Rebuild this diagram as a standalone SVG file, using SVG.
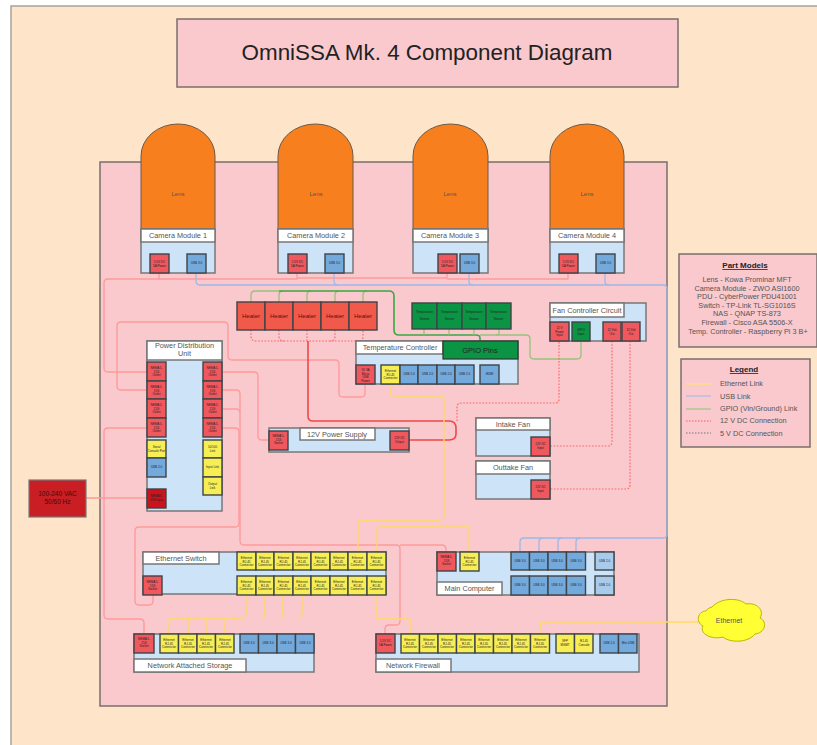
<svg xmlns="http://www.w3.org/2000/svg" width="817" height="745" viewBox="0 0 817 745">
<style>
text{font-family:"Liberation Sans",Arial,sans-serif;text-anchor:middle;fill:#222}
.box{fill:#f9c9cd;stroke:#7a6e6c;stroke-width:1.5}
.body{fill:#cce3f8;stroke:#777;stroke-width:1.5}
.lab{fill:#fff;stroke:#777;stroke-width:1.5}
.lens{fill:#f87f1e;stroke:#6b5a48;stroke-width:1}
.p{stroke:#3f4448;stroke-width:1.4}
.r{fill:#f0585e}.y{fill:#f7ee55}.b{fill:#74a9dc}.lb{fill:#a8cbec}.g{fill:#0b9444}.d{fill:#c8141e}.h{fill:#f15a4a}
.t{font-size:3px}
.l{font-size:6px;fill:#555}
.ht{font-size:6px;fill:#5a1010}
.n{font-size:7.300px;fill:#555}
.pt{font-size:7.300px;fill:#555}
path{fill:none;stroke-linejoin:round}
.pw{stroke:#f99;stroke-width:1.3}
.us{stroke:#9db8ea;stroke-width:1.3}
.ye{stroke:#ffd966;stroke-width:1.3}
.gr{stroke:#97c27a;stroke-width:1.3}
.gd{stroke:#3aa845;stroke-width:1.6}
.dr{stroke:#f66;stroke-width:1.2;stroke-dasharray:1.6 1.6}
.rs{stroke:#f04848;stroke-width:1.6}
</style>
<rect width="817" height="745" fill="#fff"/>
<rect x="11" y="6" width="810" height="745" fill="#fee4c8" stroke="#a5a298" stroke-width="1.500"/>
<g id="title"><rect x="177" y="19" width="501" height="68" class="box"/><text x="427" y="60" style="font-size:22.400px">OmniSSA Mk. 4 Component Diagram</text></g>
<rect id="enclosure" x="100" y="162" width="567" height="544" class="box"/>

<g id="connectors">
<path class="pw" d="M159 273V279H108Q104 279 104 283V368Q104 372 108 372H147"/>
<path class="pw" d="M297 273V279H159"/>
<path class="pw" d="M447 273V278H297"/>
<path class="pw" d="M568 273V279H447"/>
<path class="pw" d="M147 390H121Q117 390 117 386V326Q117 322 121 322H224Q228 322 228 326V356Q228 360 232 360H335Q339 360 339 364V393Q339 397 343 397H361Q365 397 365 393V384"/>
<path class="pw" d="M147 428H108Q104 428 104 432V615Q104 619 108 619H140Q144 619 144 623V634"/>
<path class="pw" d="M222 372H254Q258 372 258 376V436Q258 440 262 440H269"/>
<path class="pw" d="M222 390H236Q240 390 240 394V541Q240 545 244 545H396Q400 545 400 549V621Q400 625 396 625H389Q385 625 385 629V634"/>
<path class="pw" d="M400 545H441Q446 545 446 549V552"/>
<path class="pw" d="M222 409H236Q240 409 240 413"/>
<path class="pw" d="M222 428H235Q239 428 239 432V523Q239 527 235 527H139Q135 527 135 531V601Q135 605 139 605H149Q153 605 153 601V595"/>
<path class="pw" d="M86 498H147"/>
<path class="us" d="M196 273V281Q196 285 200 285H663Q667 285 667 289V534Q667 538 663 538H524Q520 538 520 542V552"/>
<path class="us" d="M334 273V281Q334 285 338 285M469 273V281Q469 285 473 285M605 273V281Q605 285 609 285"/>
<path class="us" d="M539 552V542Q539 538 543 538M558 552V542Q558 538 562 538M576 552V542Q576 538 580 538"/>
<path class="gr" d="M251 302V295Q251 291 255 291H279M279 302V295Q279 291 283 291M307 302V295Q307 291 311 291M335 302V295Q335 291 339 291M363 302V295Q363 291 367 291"/>
<path class="gd" d="M279 291H389Q394 291 394 296V330Q394 335 399 335H476Q480 335 480 338V341"/>
<path class="gr" d="M424 329V335M449 329V335M474 329V335M499 329V333Q499 335 496 335"/>
<path class="gr" d="M480 335H526Q530 335 530 339V355Q530 359 534 359H577Q581 359 581 355V341"/>
<path class="dr" d="M251 330V336Q251 341 256 341H360Q363 341 363 336V330M279 330V336Q279 341 284 341M307 330V341M335 330V336Q335 341 330 341"/>
<path class="rs" d="M308 341V416Q308 421 313 421H449Q456 421 456 428V434Q456 440 449 440H409"/>
<path class="dr" d="M457 421V407Q457 403 462 403H555Q559 403 559 399V341"/>
<path class="dr" d="M612 341V442Q612 446 608 446H550"/>
<path class="dr" d="M630 341V485Q630 489 626 489H550"/>
<path class="ye" d="M390 384V392Q390 396 394 396H440Q444 396 444 400V516Q444 520 440 520H362Q358 520 358 524V552"/>
<path class="ye" d="M469 552V527H381Q377 527 377 531V552"/>
<path class="ye" d="M246 595V614Q246 618 242 618H173Q169 618 169 622V634M265 595V614Q265 618 261 618M283 595V614Q283 618 279 618M302 595V614Q302 618 298 618M188 634V622Q188 618 192 618M206 634V622Q206 618 210 618M225 634V622Q225 618 229 618"/>
<path class="ye" d="M376 595V615Q376 619 380 619H407Q411 619 411 623V634"/>
<path class="ye" d="M540 634V626Q540 622 544 622H698"/>
</g>

<g id="lens1"><path class="lens" d="M141 229V156A37 32 0 0 1 215 156V229Z"/><text x="178" y="196" class="l">Lens</text></g>
<g id="lens2"><path class="lens" d="M278 229V156A37.500 32 0 0 1 353 156V229Z"/><text x="316" y="196" class="l">Lens</text></g>
<g id="lens3"><path class="lens" d="M413 229V156A37.500 32 0 0 1 488 156V229Z"/><text x="450" y="196" class="l">Lens</text></g>
<g id="lens4"><path class="lens" d="M550 229V156A37 32 0 0 1 624 156V229Z"/><text x="587" y="196" class="l">Lens</text></g>

<g id="cam1"><rect x="141" y="229" width="74" height="44" class="body"/><rect x="141" y="229" width="74" height="13" class="lab"/><text x="178" y="238" class="n">Camera Module 1</text><rect x="150" y="254" width="19" height="19" class="p r"/><text class="t" y="263"><tspan x="159.500">5.5V DC</tspan><tspan x="159.500" dy="3.500">5A Power</tspan></text><rect x="187" y="254" width="19" height="19" class="p b"/><text x="196.500" y="264" class="t">USB 3.0</text></g>
<g id="cam2"><rect x="278" y="229" width="75" height="44" class="body"/><rect x="278" y="229" width="75" height="13" class="lab"/><text x="316" y="238" class="n">Camera Module 2</text><rect x="288" y="254" width="19" height="19" class="p r"/><text class="t" y="263"><tspan x="297.500">5.5V DC</tspan><tspan x="297.500" dy="3.500">5A Power</tspan></text><rect x="325" y="254" width="19" height="19" class="p b"/><text x="334.500" y="264" class="t">USB 3.0</text></g>
<g id="cam3"><rect x="413" y="229" width="75" height="44" class="body"/><rect x="413" y="229" width="75" height="13" class="lab"/><text x="450" y="238" class="n">Camera Module 3</text><rect x="438" y="254" width="19" height="19" class="p r"/><text class="t" y="263"><tspan x="447.500">5.5V DC</tspan><tspan x="447.500" dy="3.500">5A Power</tspan></text><rect x="460" y="254" width="19" height="19" class="p b"/><text x="469.500" y="264" class="t">USB 3.0</text></g>
<g id="cam4"><rect x="550" y="229" width="74" height="44" class="body"/><rect x="550" y="229" width="74" height="13" class="lab"/><text x="587" y="238" class="n">Camera Module 4</text><rect x="559" y="254" width="19" height="19" class="p r"/><text class="t" y="263"><tspan x="568.500">5.5V DC</tspan><tspan x="568.500" dy="3.500">5A Power</tspan></text><rect x="596" y="254" width="19" height="19" class="p b"/><text x="605.500" y="264" class="t">USB 3.0</text></g>

<g id="heaters">
<rect x="237" y="302" width="28" height="28" class="p h"/><text x="251" y="318" class="ht">Heater</text>
<rect x="265" y="302" width="28" height="28" class="p h"/><text x="279" y="318" class="ht">Heater</text>
<rect x="293" y="302" width="28" height="28" class="p h"/><text x="307" y="318" class="ht">Heater</text>
<rect x="321" y="302" width="28" height="28" class="p h"/><text x="335" y="318" class="ht">Heater</text>
<rect x="349" y="302" width="28" height="28" class="p h"/><text x="363" y="318" class="ht">Heater</text>
</g>
<g id="sensors">
<rect x="412" y="303" width="25" height="26" class="p g"/><text class="t" y="313"><tspan x="424.500">Temperature</tspan><tspan x="424.500" dy="7">Sensor</tspan></text>
<rect x="437" y="303" width="25" height="26" class="p g"/><text class="t" y="313"><tspan x="449.500">Temperature</tspan><tspan x="449.500" dy="7">Sensor</tspan></text>
<rect x="462" y="303" width="24" height="26" class="p g"/><text class="t" y="313"><tspan x="474">Temperature</tspan><tspan x="474" dy="7">Sensor</tspan></text>
<rect x="486" y="303" width="25" height="26" class="p g"/><text class="t" y="313"><tspan x="498.500">Temperature</tspan><tspan x="498.500" dy="7">Sensor</tspan></text>
</g>

<g id="fan-controller"><rect x="550" y="303" width="96" height="38" class="body"/><rect x="550" y="303" width="74" height="14" class="lab"/><text x="587" y="313" class="n">Fan Controller Circuit</text>
<rect x="550" y="322" width="19" height="19" class="p r"/><text class="t" y="329"><tspan x="559.500">12 V</tspan><tspan x="559.500" dy="3.500">Power</tspan><tspan x="559.500" dy="3.500">Input</tspan></text>
<rect x="572" y="322" width="18" height="19" class="p g"/><text class="t" y="331"><tspan x="581">GPIO</tspan><tspan x="581" dy="3.500">Input</tspan></text>
<rect x="603" y="322" width="18" height="19" class="p r"/><text class="t" y="331"><tspan x="612">12 Volt</tspan><tspan x="612" dy="3.500">Out</tspan></text>
<rect x="622" y="322" width="18" height="19" class="p r"/><text class="t" y="331"><tspan x="631">12 Volt</tspan><tspan x="631" dy="3.500">Out</tspan></text>
</g>

<g id="temp-controller"><rect x="356" y="341" width="162" height="43" class="body"/><rect x="356" y="341" width="87" height="13" class="lab"/><text x="400" y="350" class="n">Temperature Controller</text>
<rect x="443" y="341" width="75" height="18" fill="#0b9444" stroke="#333" stroke-width="1.200"/><text x="480" y="353" style="font-size:7.500px">GPIO Pins</text>
<rect x="356" y="365" width="19" height="19" class="p r"/><text class="t" y="371"><tspan x="365.500">5V 3A</tspan><tspan x="365.500" dy="3.500">Micro</tspan><tspan x="365.500" dy="3.500">USB</tspan><tspan x="365.500" dy="3.500">Power</tspan></text>
<rect x="381" y="365" width="19" height="19" class="p y"/><text class="t" y="372"><tspan x="390.500">Ethernet</tspan><tspan x="390.500" dy="3.500">RJ-45</tspan><tspan x="390.500" dy="3.500">Connector</tspan></text>
<rect x="400" y="365" width="18" height="19" class="p b"/><text x="409" y="375" class="t">USB 2.0</text>
<rect x="418" y="365" width="19" height="19" class="p b"/><text x="427.500" y="375" class="t">USB 2.0</text>
<rect x="437" y="365" width="18" height="19" class="p b"/><text x="446" y="375" class="t">USB 2.0</text>
<rect x="455" y="365" width="19" height="19" class="p b"/><text x="464.500" y="375" class="t">USB 2.0</text>
<rect x="480" y="365" width="19" height="19" class="p b"/><text x="489.500" y="375" class="t">HDMI</text>
</g>

<g id="pdu"><rect x="147" y="341" width="75" height="170" class="body"/><rect x="147" y="341" width="75" height="19" class="lab"/><text class="n" y="348"><tspan x="184.500">Power Distribution</tspan><tspan x="184.500" dy="8">Unit</tspan></text>
<rect x="147" y="362" width="19" height="19" class="p r"/><text class="t" y="369"><tspan x="156.500">NEMA 5-</tspan><tspan x="156.500" dy="3.500">15S</tspan><tspan x="156.500" dy="3.500">Outlet</tspan></text>
<rect x="147" y="381" width="19" height="18" class="p r"/><text class="t" y="388"><tspan x="156.500">NEMA 5-</tspan><tspan x="156.500" dy="3.500">15S</tspan><tspan x="156.500" dy="3.500">Outlet</tspan></text>
<rect x="147" y="399" width="19" height="19" class="p r"/><text class="t" y="406"><tspan x="156.500">NEMA 5-</tspan><tspan x="156.500" dy="3.500">15S</tspan><tspan x="156.500" dy="3.500">Outlet</tspan></text>
<rect x="147" y="418" width="19" height="19" class="p r"/><text class="t" y="425"><tspan x="156.500">NEMA 5-</tspan><tspan x="156.500" dy="3.500">15S</tspan><tspan x="156.500" dy="3.500">Outlet</tspan></text>
<rect x="147" y="440" width="19" height="18" class="p y"/><text class="t" y="448"><tspan x="156.500">Serial</tspan><tspan x="156.500" dy="3.500">Console Port</tspan></text>
<rect x="147" y="458" width="19" height="19" class="p b"/><text x="156.500" y="468" class="t">USB 2.0</text>
<rect x="147" y="489" width="19" height="19" class="p d"/><text class="t" y="497"><tspan x="156.500">NEMA 5-</tspan><tspan x="156.500" dy="3.500">15S Input</tspan></text>
<rect x="203" y="362" width="19" height="19" class="p r"/><text class="t" y="369"><tspan x="212.500">NEMA 5-</tspan><tspan x="212.500" dy="3.500">15S</tspan><tspan x="212.500" dy="3.500">Outlet</tspan></text>
<rect x="203" y="381" width="19" height="18" class="p r"/><text class="t" y="388"><tspan x="212.500">NEMA 5-</tspan><tspan x="212.500" dy="3.500">15S</tspan><tspan x="212.500" dy="3.500">Outlet</tspan></text>
<rect x="203" y="399" width="19" height="19" class="p r"/><text class="t" y="406"><tspan x="212.500">NEMA 5-</tspan><tspan x="212.500" dy="3.500">15S</tspan><tspan x="212.500" dy="3.500">Outlet</tspan></text>
<rect x="203" y="418" width="19" height="19" class="p r"/><text class="t" y="425"><tspan x="212.500">NEMA 5-</tspan><tspan x="212.500" dy="3.500">15S</tspan><tspan x="212.500" dy="3.500">Outlet</tspan></text>
<rect x="203" y="440" width="19" height="18" class="p y"/><text class="t" y="448"><tspan x="212.500">10/100</tspan><tspan x="212.500" dy="3.500">Link</tspan></text>
<rect x="203" y="458" width="19" height="19" class="p y"/><text class="t" y="468"><tspan x="212.500">Input Link</tspan></text>
<rect x="203" y="477" width="19" height="18" class="p y"/><text class="t" y="485"><tspan x="212.500">Output</tspan><tspan x="212.500" dy="3.500">Link</tspan></text>
</g>

<g id="ac-input"><rect x="29" y="480" width="57" height="37" fill="#c81e24" stroke="#777" stroke-width="1.200"/><text y="496" style="fill:#4a0a0a;font-size:6.500px"><tspan x="57.500">100-240 VAC</tspan><tspan x="57.500" dy="8">50/60 Hz</tspan></text></g>

<g id="psu"><rect x="269" y="428" width="140" height="24" class="body"/><rect x="300" y="428" width="75" height="12" class="lab"/><text x="337" y="437" class="n">12V Power Supply</text>
<rect x="269" y="431" width="19" height="19" class="p r"/><text class="t" y="437"><tspan x="278.500">NEMA 5-</tspan><tspan x="278.500" dy="3.500">15S</tspan><tspan x="278.500" dy="3.500">Socket</tspan></text>
<rect x="390" y="431" width="19" height="19" class="p r"/><text class="t" y="439"><tspan x="399.500">12V DC</tspan><tspan x="399.500" dy="3.500">Output</tspan></text></g>

<g id="intake-fan"><rect x="476" y="418" width="74" height="38" class="body"/><rect x="476" y="418" width="74" height="12" class="lab"/><text x="513" y="427" class="n">Intake Fan</text><rect x="531" y="437" width="19" height="19" class="p r"/><text class="t" y="445"><tspan x="540.500">12V DC</tspan><tspan x="540.500" dy="3.500">Input</tspan></text></g>
<g id="outtake-fan"><rect x="476" y="461" width="74" height="38" class="body"/><rect x="476" y="461" width="74" height="13" class="lab"/><text x="513" y="470" class="n">Outtake Fan</text><rect x="531" y="480" width="19" height="19" class="p r"/><text class="t" y="488"><tspan x="540.500">12V DC</tspan><tspan x="540.500" dy="3.500">Input</tspan></text></g>

<g id="switch"><rect x="143" y="552" width="243" height="42" class="body"/><rect x="143" y="552" width="76" height="12" class="lab"/><text x="181" y="561" class="n">Ethernet Switch</text>
<rect x="143" y="576" width="19" height="19" class="p r"/><text class="t" y="583"><tspan x="152.500">NEMA 5-</tspan><tspan x="152.500" dy="3.500">15S</tspan><tspan x="152.500" dy="3.500">Socket</tspan></text>
<g id="sw-top">
<rect x="237" y="552" width="19" height="18" class="p y"/><text class="t" y="559"><tspan x="246.500">Ethernet</tspan><tspan x="246.500" dy="3.500">RJ-45</tspan><tspan x="246.500" dy="3.500">Connector</tspan></text>
<rect x="256" y="552" width="18" height="18" class="p y"/><text class="t" y="559"><tspan x="265">Ethernet</tspan><tspan x="265" dy="3.500">RJ-45</tspan><tspan x="265" dy="3.500">Connector</tspan></text>
<rect x="274" y="552" width="19" height="18" class="p y"/><text class="t" y="559"><tspan x="283.500">Ethernet</tspan><tspan x="283.500" dy="3.500">RJ-45</tspan><tspan x="283.500" dy="3.500">Connector</tspan></text>
<rect x="293" y="552" width="18" height="18" class="p y"/><text class="t" y="559"><tspan x="302">Ethernet</tspan><tspan x="302" dy="3.500">RJ-45</tspan><tspan x="302" dy="3.500">Connector</tspan></text>
<rect x="311" y="552" width="19" height="18" class="p y"/><text class="t" y="559"><tspan x="320.500">Ethernet</tspan><tspan x="320.500" dy="3.500">RJ-45</tspan><tspan x="320.500" dy="3.500">Connector</tspan></text>
<rect x="330" y="552" width="18" height="18" class="p y"/><text class="t" y="559"><tspan x="339">Ethernet</tspan><tspan x="339" dy="3.500">RJ-45</tspan><tspan x="339" dy="3.500">Connector</tspan></text>
<rect x="348" y="552" width="19" height="18" class="p y"/><text class="t" y="559"><tspan x="357.500">Ethernet</tspan><tspan x="357.500" dy="3.500">RJ-45</tspan><tspan x="357.500" dy="3.500">Connector</tspan></text>
<rect x="367" y="552" width="19" height="18" class="p y"/><text class="t" y="559"><tspan x="376.500">Ethernet</tspan><tspan x="376.500" dy="3.500">RJ-45</tspan><tspan x="376.500" dy="3.500">Connector</tspan></text>
</g>
<g id="sw-bottom">
<rect x="237" y="576" width="19" height="19" class="p y"/><text class="t" y="583"><tspan x="246.500">Ethernet</tspan><tspan x="246.500" dy="3.500">RJ-45</tspan><tspan x="246.500" dy="3.500">Connector</tspan></text>
<rect x="256" y="576" width="18" height="19" class="p y"/><text class="t" y="583"><tspan x="265">Ethernet</tspan><tspan x="265" dy="3.500">RJ-45</tspan><tspan x="265" dy="3.500">Connector</tspan></text>
<rect x="274" y="576" width="19" height="19" class="p y"/><text class="t" y="583"><tspan x="283.500">Ethernet</tspan><tspan x="283.500" dy="3.500">RJ-45</tspan><tspan x="283.500" dy="3.500">Connector</tspan></text>
<rect x="293" y="576" width="18" height="19" class="p y"/><text class="t" y="583"><tspan x="302">Ethernet</tspan><tspan x="302" dy="3.500">RJ-45</tspan><tspan x="302" dy="3.500">Connector</tspan></text>
<rect x="311" y="576" width="19" height="19" class="p y"/><text class="t" y="583"><tspan x="320.500">Ethernet</tspan><tspan x="320.500" dy="3.500">RJ-45</tspan><tspan x="320.500" dy="3.500">Connector</tspan></text>
<rect x="330" y="576" width="18" height="19" class="p y"/><text class="t" y="583"><tspan x="339">Ethernet</tspan><tspan x="339" dy="3.500">RJ-45</tspan><tspan x="339" dy="3.500">Connector</tspan></text>
<rect x="348" y="576" width="19" height="19" class="p y"/><text class="t" y="583"><tspan x="357.500">Ethernet</tspan><tspan x="357.500" dy="3.500">RJ-45</tspan><tspan x="357.500" dy="3.500">Connector</tspan></text>
<rect x="367" y="576" width="19" height="19" class="p y"/><text class="t" y="583"><tspan x="376.500">Ethernet</tspan><tspan x="376.500" dy="3.500">RJ-45</tspan><tspan x="376.500" dy="3.500">Connector</tspan></text>
</g></g>

<g id="main-computer"><rect x="437" y="552" width="177" height="43" class="body"/><rect x="437" y="582" width="65" height="13" class="lab"/><text x="469.500" y="591" class="n">Main Computer</text>
<rect x="437" y="552" width="19" height="19" class="p r"/><text class="t" y="558"><tspan x="446.500">NEMA 5-</tspan><tspan x="446.500" dy="3.500">15S</tspan><tspan x="446.500" dy="3.500">Socket</tspan></text>
<rect x="460" y="552" width="19" height="19" class="p y"/><text class="t" y="559"><tspan x="469.500">Ethernet</tspan><tspan x="469.500" dy="3.500">RJ-45</tspan><tspan x="469.500" dy="3.500">Connector</tspan></text>
<rect x="511" y="552" width="18.500" height="18" class="p b"/><text x="520" y="562" class="t">USB 3.0</text>
<rect x="529.500" y="552" width="18.500" height="18" class="p b"/><text x="539" y="562" class="t">USB 3.0</text>
<rect x="548" y="552" width="18.500" height="18" class="p b"/><text x="557" y="562" class="t">USB 3.0</text>
<rect x="566.500" y="552" width="19" height="18" class="p b"/><text x="576" y="562" class="t">USB 3.0</text>
<rect x="595" y="552" width="19" height="18" class="p lb"/><text x="604.500" y="562" class="t">USB 2.0</text>
<rect x="511" y="576" width="18.500" height="19" class="p b"/><text x="520" y="586" class="t">USB 3.0</text>
<rect x="529.500" y="576" width="18.500" height="19" class="p b"/><text x="539" y="586" class="t">USB 3.0</text>
<rect x="548" y="576" width="18.500" height="19" class="p b"/><text x="557" y="586" class="t">USB 3.0</text>
<rect x="566.500" y="576" width="19" height="19" class="p b"/><text x="576" y="586" class="t">USB 3.0</text>
<rect x="595" y="576" width="19" height="19" class="p lb"/><text x="604.500" y="586" class="t">USB 2.0</text>
</g>

<g id="nas"><rect x="134" y="634" width="180" height="38" class="body"/><rect x="134" y="659" width="112" height="13" class="lab"/><text x="190" y="668" class="n">Network Attached Storage</text>
<rect x="134" y="634" width="20" height="19" class="p r"/><text class="t" y="640"><tspan x="144">NEMA 5-</tspan><tspan x="144" dy="3.500">15S</tspan><tspan x="144" dy="3.500">Socket</tspan></text>
<rect x="160" y="634" width="18.500" height="19" class="p y"/><text class="t" y="641"><tspan x="169">Ethernet</tspan><tspan x="169" dy="3.500">RJ-45</tspan><tspan x="169" dy="3.500">Connector</tspan></text>
<rect x="178.500" y="634" width="18.500" height="19" class="p y"/><text class="t" y="641"><tspan x="188">Ethernet</tspan><tspan x="188" dy="3.500">RJ-45</tspan><tspan x="188" dy="3.500">Connector</tspan></text>
<rect x="197" y="634" width="18.500" height="19" class="p y"/><text class="t" y="641"><tspan x="206">Ethernet</tspan><tspan x="206" dy="3.500">RJ-45</tspan><tspan x="206" dy="3.500">Connector</tspan></text>
<rect x="215.500" y="634" width="18.500" height="19" class="p y"/><text class="t" y="641"><tspan x="225">Ethernet</tspan><tspan x="225" dy="3.500">RJ-45</tspan><tspan x="225" dy="3.500">Connector</tspan></text>
<rect x="240" y="634" width="18.500" height="19" class="p b"/><text x="249" y="644" class="t">USB 3.0</text>
<rect x="258.500" y="634" width="18.500" height="19" class="p b"/><text x="268" y="644" class="t">USB 3.0</text>
<rect x="277" y="634" width="18.500" height="19" class="p b"/><text x="286" y="644" class="t">USB 3.0</text>
<rect x="295.500" y="634" width="18.500" height="19" class="p b"/><text x="305" y="644" class="t">USB 3.0</text>
</g>

<g id="firewall"><rect x="376" y="634" width="263" height="38" class="body"/><rect x="376" y="659" width="75" height="13" class="lab"/><text x="413" y="668" class="n">Network Firewall</text>
<rect x="376" y="634" width="19" height="19" class="p r"/><text class="t" y="642"><tspan x="385.500">5.5V DC</tspan><tspan x="385.500" dy="3.500">5A Power</tspan></text>
<rect x="401" y="634" width="18.500" height="19" class="p y"/><text class="t" y="641"><tspan x="410">Ethernet</tspan><tspan x="410" dy="3.500">RJ-45</tspan><tspan x="410" dy="3.500">Connector</tspan></text>
<rect x="419.500" y="634" width="18.500" height="19" class="p y"/><text class="t" y="641"><tspan x="429">Ethernet</tspan><tspan x="429" dy="3.500">RJ-45</tspan><tspan x="429" dy="3.500">Connector</tspan></text>
<rect x="438" y="634" width="18.500" height="19" class="p y"/><text class="t" y="641"><tspan x="447">Ethernet</tspan><tspan x="447" dy="3.500">RJ-45</tspan><tspan x="447" dy="3.500">Connector</tspan></text>
<rect x="456.500" y="634" width="18.500" height="19" class="p y"/><text class="t" y="641"><tspan x="466">Ethernet</tspan><tspan x="466" dy="3.500">RJ-45</tspan><tspan x="466" dy="3.500">Connector</tspan></text>
<rect x="475" y="634" width="18.500" height="19" class="p y"/><text class="t" y="641"><tspan x="484">Ethernet</tspan><tspan x="484" dy="3.500">RJ-45</tspan><tspan x="484" dy="3.500">Connector</tspan></text>
<rect x="493.500" y="634" width="18.500" height="19" class="p y"/><text class="t" y="641"><tspan x="503">Ethernet</tspan><tspan x="503" dy="3.500">RJ-45</tspan><tspan x="503" dy="3.500">Connector</tspan></text>
<rect x="512" y="634" width="18.500" height="19" class="p y"/><text class="t" y="641"><tspan x="521">Ethernet</tspan><tspan x="521" dy="3.500">RJ-45</tspan><tspan x="521" dy="3.500">Connector</tspan></text>
<rect x="530.500" y="634" width="19" height="19" class="p y"/><text class="t" y="641"><tspan x="540">Ethernet</tspan><tspan x="540" dy="3.500">RJ-45</tspan><tspan x="540" dy="3.500">Connector</tspan></text>
<rect x="556" y="634" width="18.500" height="19" class="p y"/><text class="t" y="642"><tspan x="565">SFP</tspan><tspan x="565" dy="3.500">MGMT</tspan></text>
<rect x="574.500" y="634" width="18.500" height="19" class="p y"/><text class="t" y="642"><tspan x="584">RJ-45</tspan><tspan x="584" dy="3.500">Console</tspan></text>
<rect x="600" y="634" width="18.500" height="19" class="p b"/><text x="609" y="644" class="t">USB 2.0</text>
<rect x="618.500" y="634" width="18.500" height="19" class="p b"/><text x="628" y="644" class="t">Mini USB</text>
</g>

<g id="ethernet-cloud"><path d="M712 607C720 598 738 597 746 604C756 602 765 610 760 618C768 622 765 633 755 634C748 643 730 643 723 637C712 640 699 634 703 626C695 622 698 611 706 611C707 609 709 608 712 607Z" style="fill:#ffff33;stroke:#b8b800;stroke-width:1"/><text x="729" y="623" style="font-size:7px;fill:#555">Ethernet</text></g>

<g id="part-models"><rect x="679" y="254" width="138" height="93" class="box"/>
<text x="745" y="268" style="font-size:8px;font-weight:bold;text-decoration:underline">Part Models</text>
<text x="747" y="282" class="pt">Lens - Kowa Prominar MFT</text>
<text x="747" y="291" class="pt">Camera Module - ZWO ASI1600</text>
<text x="747" y="299" class="pt">PDU - CyberPower PDU41001</text>
<text x="747" y="308" class="pt">Switch - TP-Link TL-SG1016S</text>
<text x="747" y="316" class="pt">NAS - QNAP TS-873</text>
<text x="747" y="325" class="pt">Firewall - Cisco ASA 5506-X</text>
<text x="748" y="334" class="pt">Temp. Controller - Raspberry Pi 3 B+</text></g>

<g id="legend"><rect x="681" y="359" width="129" height="88" class="box"/>
<text x="744" y="372" style="font-size:8px;font-weight:bold;text-decoration:underline">Legend</text>
<path d="M686 384H711" style="stroke:#ffe96b;stroke-width:1"/><path d="M686 396H711" style="stroke:#9db8ea;stroke-width:1"/><path d="M686 409H711" style="stroke:#c2c7a0;stroke-width:2"/><path d="M686 421H711" style="stroke:#f55;stroke-width:1;stroke-dasharray:1.500 1.500"/><path d="M686 433H711" style="stroke:#777;stroke-width:1;stroke-dasharray:1.500 1.500"/>
<text x="720" y="386" class="pt" style="text-anchor:start">Ethernet Link</text>
<text x="720" y="399" class="pt" style="text-anchor:start">USB Link</text>
<text x="720" y="411" class="pt" style="text-anchor:start">GPIO (Vin/Ground) Link</text>
<text x="720" y="423" class="pt" style="text-anchor:start">12 V DC Connection</text>
<text x="720" y="436" class="pt" style="text-anchor:start">5 V DC Connection</text></g>
</svg>
